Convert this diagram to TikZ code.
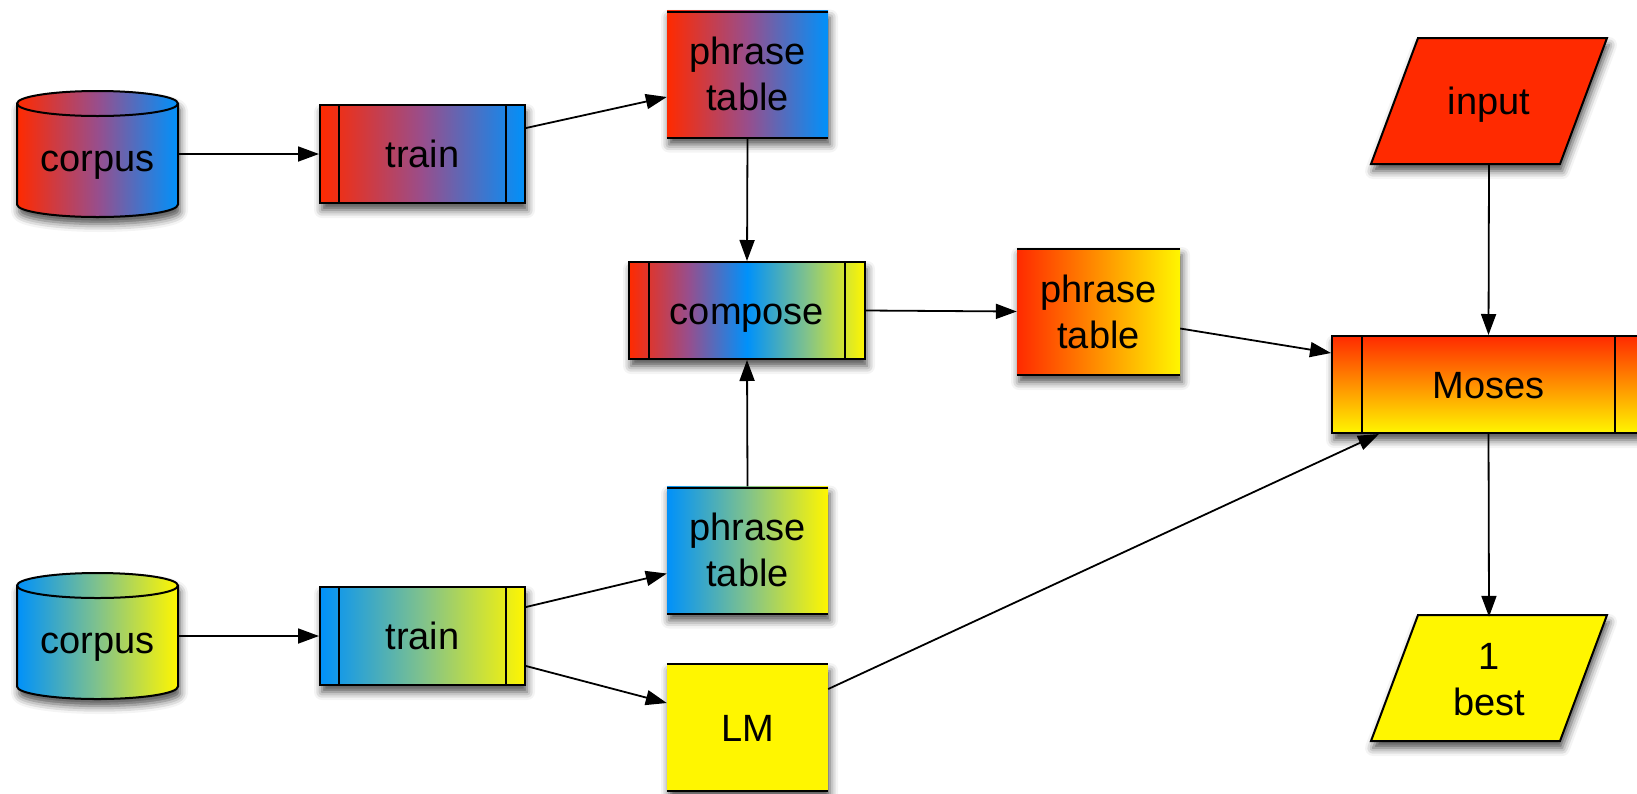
\documentclass[tikz,border=0pt]{standalone}
\usepackage{fontspec}
\setmainfont{Liberation Sans}
\usetikzlibrary{arrows.meta,shadows.blur,calc}
\definecolor{cred}{RGB}{255,42,0}
\definecolor{cblue}{RGB}{0,145,250}
\definecolor{cyel}{RGB}{255,246,0}
\definecolor{cpurp}{RGB}{152,78,140}
\definecolor{cgreen}{RGB}{128,194,140}
\pgfdeclarehorizontalshading{redblue}{100bp}{color(0bp)=(cred); color(25bp)=(cred); color(50bp)=(cpurp); color(75bp)=(cblue); color(100bp)=(cblue)}
\pgfdeclarehorizontalshading{blueyel}{100bp}{color(0bp)=(cblue); color(25bp)=(cblue); color(50bp)=(cgreen); color(75bp)=(cyel); color(100bp)=(cyel)}
\pgfdeclarehorizontalshading{rainbow}{100bp}{color(0bp)=(cred); color(25bp)=(cred); color(37.5bp)=(cpurp); color(50bp)=(cblue); color(62.5bp)=(cgreen); color(75bp)=(cyel); color(100bp)=(cyel)}
\tikzset{
  shd/.style={blur shadow={shadow xshift=2pt, shadow yshift=-7pt, shadow blur radius=8pt, shadow opacity=70}},
  bord/.style={line width=2pt, draw=black},
  conn/.style={line width=1.8pt, black, -{Triangle[length=21pt,width=15pt]}},
  lbl/.style={inner sep=0pt, align=center, font=\fontsize{38}{46}\selectfont},
  one/.style={text height=27pt, text depth=0pt},
  tablebox/.style={lbl, shd, minimum width=161pt, minimum height=127pt},
  procbox/.style={lbl, one, shd, bord, minimum height=98pt},
  holder/.style={inner sep=0pt, minimum width=236pt, minimum height=126pt, lbl},
}
\begin{document}
\begin{tikzpicture}[x=1pt,y=-1pt]
\useasboundingbox (0,0) rectangle (1637,793);

% ---------- corpus 1 (cylinder) ----------
\path[shd, bord, shading=redblue]
  (17,103.5) -- (17,204.5) arc[start angle=180, end angle=360, x radius=80.5pt, y radius=12.5pt]
  -- (178,103.5) arc[start angle=0, end angle=180, x radius=80.5pt, y radius=12.5pt] -- cycle;
\draw[bord] (17,103.5) arc[start angle=180, end angle=360, x radius=80.5pt, y radius=12.5pt];
\node[lbl, minimum width=161pt, minimum height=126pt] (corpusA) at (97.5,154) {};
\node[lbl, one] at (97.5,158) {corpus};

% ---------- corpus 2 (cylinder) ----------
\path[shd, bord, shading=blueyel]
  (17,585.5) -- (17,686.5) arc[start angle=180, end angle=360, x radius=80.5pt, y radius=12.5pt]
  -- (178,585.5) arc[start angle=0, end angle=180, x radius=80.5pt, y radius=12.5pt] -- cycle;
\draw[bord] (17,585.5) arc[start angle=180, end angle=360, x radius=80.5pt, y radius=12.5pt];
\node[lbl, minimum width=161pt, minimum height=126pt] (corpusB) at (97.5,636) {};
\node[lbl, one] at (97.5,640) {corpus};

% ---------- train boxes ----------
\node[procbox, minimum width=205pt, shading=redblue] (trainA) at (422.5,154) {train};
\draw[bord] ([xshift=20pt]trainA.north west) -- ([xshift=20pt]trainA.south west);
\draw[bord] ([xshift=-20pt]trainA.north east) -- ([xshift=-20pt]trainA.south east);

\node[procbox, minimum width=205pt, shading=blueyel] (trainB) at (422.5,636) {train};
\draw[bord] ([xshift=20pt]trainB.north west) -- ([xshift=20pt]trainB.south west);
\draw[bord] ([xshift=-20pt]trainB.north east) -- ([xshift=-20pt]trainB.south east);

% ---------- phrase tables ----------
\node[tablebox, shading=redblue] (ptA) at (747.5,74) {phrase\\table};
\draw[bord] ([yshift=-1.5pt]ptA.north west) -- ([yshift=-1.5pt]ptA.north east);
\draw[bord] (ptA.south west) -- (ptA.south east);

\node[tablebox, shading=blueyel] (ptB) at (747.5,550) {phrase\\table};
\draw[bord] ([yshift=-1.5pt]ptB.north west) -- ([yshift=-1.5pt]ptB.north east);
\draw[bord] (ptB.south west) -- (ptB.south east);

\node[tablebox, minimum width=163pt, left color=cred, right color=cyel] (ptC) at (1098.5,311.5) {phrase\\table};
\draw[bord] ([yshift=-1.5pt]ptC.north west) -- ([yshift=-1.5pt]ptC.north east);
\draw[bord] (ptC.south west) -- (ptC.south east);

\node[tablebox, one, fill=cyel] (lm) at (747.5,727.5) {LM};
\draw[bord] (lm.north west) -- (lm.north east);
\draw[bord] (lm.south west) -- (lm.south east);

% ---------- compose ----------
\node[procbox, minimum width=236pt, minimum height=97pt, shading=rainbow] (compose) at (747,310.5) {compose};
\draw[bord] ([xshift=21pt]compose.north west) -- ([xshift=21pt]compose.south west);
\draw[bord] ([xshift=-21pt]compose.north east) -- ([xshift=-21pt]compose.south east);

% ---------- Moses ----------
\node[procbox, minimum width=313pt, minimum height=97pt, top color=cred, bottom color=cyel] (moses) at (1488.5,384.5) {Moses};
\draw[bord] ([xshift=31pt]moses.north west) -- ([xshift=31pt]moses.south west);
\draw[bord] ([xshift=-31pt]moses.north east) -- ([xshift=-31pt]moses.south east);

% ---------- input / 1 best (parallelograms) ----------
\path[shd, bord, fill=cred] (1418,38) -- (1607,38) -- (1560,164) -- (1371,164) -- cycle;
\node[holder, one] (input) at (1489,101) {input};

\path[shd, bord, fill=cyel] (1418,615) -- (1607,615) -- (1560,741) -- (1371,741) -- cycle;
\node[holder] (best) at (1489,680) {1\\best};

% ---------- connectors ----------
\draw[conn] (corpusA.east) -- (trainA.west);
\draw[conn] (corpusB.east) -- (trainB.west);
\draw[conn] ([yshift=26pt]trainA.east) -- ([yshift=-23pt]ptA.west);
\draw[conn] ([yshift=29pt]trainB.east) -- ([yshift=-23.5pt]ptB.west);
\draw[conn] ([yshift=-30pt]trainB.east) -- ([yshift=24.5pt]lm.west);
\draw[conn] (ptA.south) -- (compose.north);
\draw[conn] (ptB.north) -- (compose.south);
\draw[conn] (compose.east) -- (ptC.west);
\draw[conn] ([yshift=-17pt]ptC.east) -- ([yshift=31.5pt]moses.west);
\draw[conn] ([yshift=38.5pt]lm.east) -- ([xshift=48pt]moses.south west);
\draw[conn] (input.south) -- (moses.north);
\draw[conn] (moses.south) -- (best.north);
\end{tikzpicture}
\end{document}
